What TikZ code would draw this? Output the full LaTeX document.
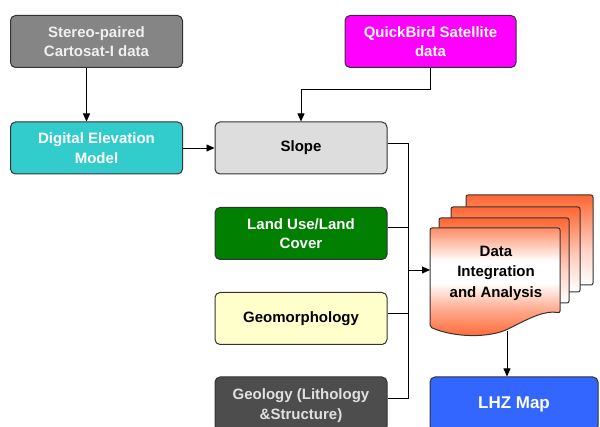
\documentclass[tikz,border=0pt]{standalone}
\usepackage{fontspec}
\setmainfont{Liberation Sans}
\usetikzlibrary{arrows.meta}
\definecolor{stereogray}{HTML}{858585}
\definecolor{demcyan}{HTML}{33CCCC}
\definecolor{slopegray}{HTML}{DDDDDD}
\definecolor{qbmagenta}{HTML}{FF00FF}
\definecolor{lugreen}{HTML}{007F00}
\definecolor{geoyellow}{HTML}{FFFFCC}
\definecolor{geodark}{HTML}{4D4D4D}
\definecolor{lhzblue}{HTML}{3366FF}
\definecolor{docorange}{HTML}{FF6633}
\definecolor{edge}{HTML}{333333}
\pgfdeclareverticalshading{frontshade}{100bp}{color(0bp)=(docorange); color(25bp)=(docorange); color(38bp)=(docorange!55); color(50bp)=(white); color(60bp)=(white); color(75bp)=(docorange!75); color(100bp)=(docorange!75)}
\pgfdeclareverticalshading{backshade}{100bp}{color(0bp)=(white); color(25bp)=(white); color(45bp)=(docorange!30); color(75bp)=(docorange); color(100bp)=(docorange)}
\begin{document}
\begin{tikzpicture}[x=1pt,y=-1pt,
  box/.style={draw=edge, line width=1pt, rounded corners=5pt, minimum width=172pt,
    minimum height=52pt, align=center, inner sep=2pt,
    font=\fontsize{15}{19.5}\selectfont\bfseries},
  page/.style={draw=edge, line width=1pt, rounded corners=2pt},
  conn/.style={line width=0.8pt, black},
  arr/.style={conn, -{Triangle[length=8pt,width=7pt]}}]
\useasboundingbox (0,0) rectangle (600,427);
\clip (0,0) rectangle (600,427);

% boxes
\node[box, fill=stereogray, text=white!94!black] (stereo) at (96.5,41.5) {Stereo-paired\\Cartosat-I data};
\node[box, fill=demcyan, text=white] (dem) at (96.5,148) {Digital Elevation\\Model};
\node[box, fill=slopegray, text=black] (slope) at (301,148) {Slope};
\node[box, fill=qbmagenta, text=white, minimum width=171pt] (quick) at (430.5,41.5) {QuickBird Satellite\\data};
\node[box, fill=lugreen, text=white] (landuse) at (301,233.5) {Land Use/Land\\Cover};
\node[box, fill=geoyellow, text=black] (geomorph) at (301,318.5) {Geomorphology};
\node[box, fill=geodark, text=white!88!black, minimum height=54pt, text depth=0pt] (geology) at (301,404) {Geology (Lithology\\\&Structure)};
\node[box, fill=lhzblue, text=white, minimum width=168pt, minimum height=54pt,
  font=\fontsize{17}{19}\selectfont\bfseries] (lhz) at (514,404) {LHZ Map};

% document stack
\draw[page, shading=backshade] (466,195) rectangle (593,285);
\draw[page, shading=backshade] (451,207) rectangle (580,292);
\draw[page, shading=backshade] (439,218) rectangle (569,303);
\draw[page, shading=frontshade]
  (430,327) -- (430,228) -- (560,228) -- (560,313)
  .. controls (545,310) and (530,318) .. (510,328)
  .. controls (490,338) and (455,338) .. (430,327) -- cycle;
\node[align=center, font=\fontsize{15}{20.5}\selectfont\bfseries] (data) at (496,273) {Data\\Integration\\and Analysis};
\coordinate (docleft) at (430,270);
\coordinate (docbot) at (507,331);

% connectors
\draw[arr] ([xshift=-10pt]stereo.south) -- ([xshift=-10pt]dem.north);
\draw[arr] (dem.east) -- (slope.west);
\draw[arr] (quick.south) -- ++(0,21) -| (slope.north);
\coordinate (bustop) at (408,143);
\coordinate (busbot) at (408,398);
\coordinate (busmid) at (408,270);
\draw[conn] ([yshift=5pt]slope.east) -- (bustop) -- (busbot) -- ([yshift=6pt]geology.east);
\draw[conn] ([yshift=6pt]landuse.east) -- ([yshift=6pt]landuse.east -| bustop);
\draw[conn] ([yshift=5pt]geomorph.east) -- ([yshift=5pt]geomorph.east -| bustop);
\draw[arr] (busmid) -- (docleft);
\draw[arr] (docbot) -- (lhz.north -| docbot);
\end{tikzpicture}
\end{document}
